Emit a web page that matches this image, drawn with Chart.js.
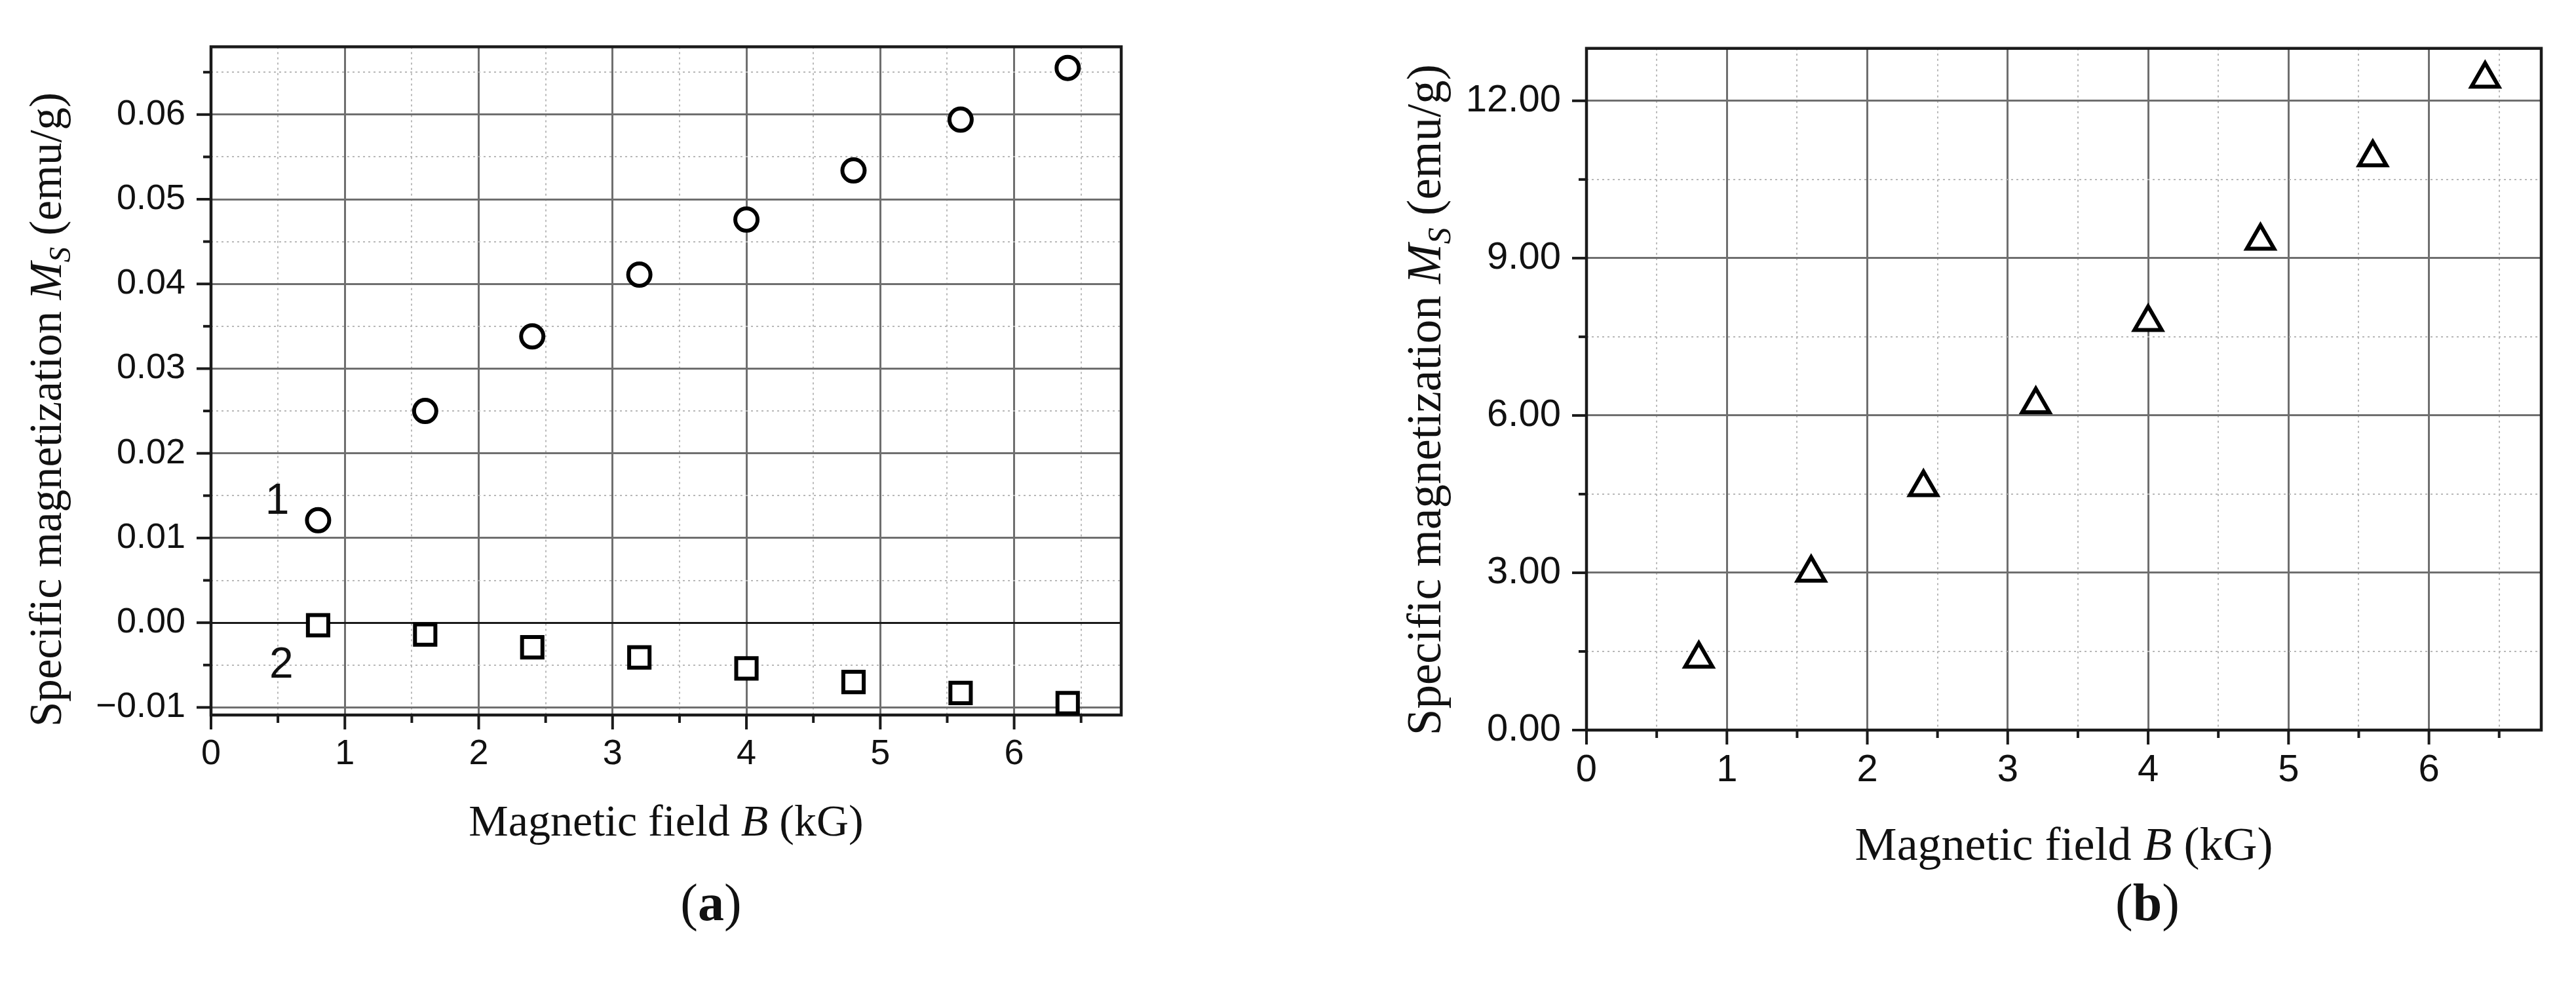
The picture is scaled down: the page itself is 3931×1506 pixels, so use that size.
<!DOCTYPE html>
<html>
<head>
<meta charset="utf-8">
<script src="https://cdn.jsdelivr.net/npm/chart.js@4.4.1/dist/chart.umd.min.js"></script>
<style>
  html, body { margin: 0; padding: 0; background: #fff; overflow: hidden; }
  #caixaA { position: absolute; left: 0; top: 0; }
  #caixaB { position: absolute; left: 1950px; top: 0; }
</style>
</head>
<body>
<canvas id="caixaA" width="1950" height="1506"></canvas>
<canvas id="caixaB" width="1981" height="1506"></canvas>
<script>
// campo magnetico B (kG)
var campo = [0.8, 1.6, 2.4, 3.2, 4.0, 4.8, 5.6, 6.4]
// (a) curva 1 (circulos) e curva 2 (quadrados), emu/g
var curva1 = [0.0121, 0.0250, 0.0338, 0.0411, 0.0476, 0.0534, 0.0594, 0.0655]
var curva2 = [-0.0003, -0.0014, -0.0029, -0.0041, -0.0054, -0.0070, -0.0083, -0.0095]
// (b) triangulos, emu/g
var curvaB = [1.36, 3.00, 4.63, 6.21, 7.78, 9.33, 10.92, 12.42]

// rotulos dos eixos
var rotulosX = ['0', '1', '2', '3', '4', '5', '6']
var rotulosYA = ['\u22120.01', '0.00', '0.01', '0.02', '0.03', '0.04', '0.05', '0.06']
var rotulosYB = ['0.00', '3.00', '6.00', '9.00', '12.00']
// numeros das curvas em (a)
var numerosCurvas = [
    { t: '1', x: 0.495, y: 0.0147 },
    { t: '2', x: 0.525, y: -0.0046 }
]

function pontos(ys) {
    return campo.map((x, i) => ({ x: x, y: ys[i] }))
}

function ehMaior(v, passo) {
    return Math.abs(v / passo - Math.round(v / passo)) < 1e-6
}

function fonteSerif(p, tam) {
    var s = p.sub ? tam * 0.68 : tam
    return (p.i ? 'italic ' : '') + (p.b ? 'bold ' : '') + Math.round(s) + 'px "Liberation Serif"'
}

// escreve texto com partes em italico / subscrito, centrado na origem
function escrevePartes(ctx, partes, tam) {
    var total = 0
    partes.forEach(p => {
        ctx.font = fonteSerif(p, tam)
        p.w = ctx.measureText(p.t).width
        total += p.w
    })
    var cx = -total / 2
    partes.forEach(p => {
        ctx.font = fonteSerif(p, tam)
        ctx.fillText(p.t, cx, p.sub ? tam * 0.2 : 0)
        cx += p.w
    })
}

var tituloY = [{ t: 'Specific magnetization ' }, { t: 'M', i: true }, { t: 'S', i: true, sub: true }, { t: ' (emu/g)' }]
var tituloX = [{ t: 'Magnetic field ' }, { t: 'B', i: true }, { t: ' (kG)' }]

const moldura = {
    id: 'moldura',
    beforeDatasetsDraw(chart) {
        const { ctx, chartArea: a, scales } = chart
        const cfg = chart.options.plugins.moldura
        ctx.save()
        ctx.strokeStyle = '#1a1a1a'
        ctx.lineWidth = 4
        scales.x.ticks.forEach(t => {
            const px = scales.x.getPixelForValue(t.value)
            const len = ehMaior(t.value, 1) ? 22 : 12
            ctx.beginPath(); ctx.moveTo(px, a.bottom); ctx.lineTo(px, a.bottom + len); ctx.stroke()
        })
        scales.y.ticks.forEach(t => {
            const py = scales.y.getPixelForValue(t.value)
            const len = ehMaior(t.value, cfg.passoY) ? 22 : 12
            ctx.beginPath(); ctx.moveTo(a.left, py); ctx.lineTo(a.left - len, py); ctx.stroke()
        })
        ctx.lineWidth = 4.5
        ctx.strokeRect(a.left, a.top, a.right - a.left, a.bottom - a.top)
        ctx.restore()
    },
    afterDraw(chart) {
        const { ctx, chartArea: a, scales } = chart
        const cfg = chart.options.plugins.moldura
        ctx.save()
        ctx.fillStyle = '#111'
        ctx.textBaseline = 'alphabetic'
        ctx.textAlign = 'left'

        ctx.save()
        ctx.translate(cfg.yTitulo.x, cfg.yTitulo.y)
        ctx.rotate(-Math.PI / 2)
        escrevePartes(ctx, tituloY, cfg.yTitulo.tam)
        ctx.restore()

        ctx.save()
        ctx.translate((a.left + a.right) / 2, cfg.xTitulo.y)
        escrevePartes(ctx, tituloX, cfg.xTitulo.tam)
        ctx.restore()

        ctx.save()
        ctx.translate(cfg.legenda.x, cfg.legenda.y)
        escrevePartes(ctx, [{ t: '(' }, { t: cfg.legenda.t, b: true }, { t: ')' }], 80)
        ctx.restore()

        if (cfg.numeros) {
            ctx.font = '66px "Liberation Sans"'
            ctx.textAlign = 'center'
            cfg.numeros.forEach(n => {
                ctx.fillText(n.t, scales.x.getPixelForValue(n.x), scales.y.getPixelForValue(n.y) + 24)
            })
        }
        ctx.restore()
    }
}

function escalas(o) {
    const maiorX = c => c.tick && ehMaior(c.tick.value, 1)
    const maiorY = c => c.tick && ehMaior(c.tick.value, o.passoY)
    return {
        x: {
            type: 'linear', min: 0, max: 6.8,
            afterFit: s => { s.height = o.alturaX },
            ticks: {
                stepSize: 0.5, includeBounds: false, autoSkip: false, maxRotation: 0,
                padding: o.padX, color: '#111',
                font: { family: 'Liberation Sans', size: o.fonte },
                callback: v => ehMaior(v, 1) ? rotulosX[Math.round(v)] : ''
            },
            grid: {
                drawTicks: false,
                color: c => maiorX(c) ? '#6f6f6f' : '#b8b8b8',
                lineWidth: c => maiorX(c) ? 3 : 2
            },
            border: { display: false, dash: c => maiorX(c) ? [] : [3, 5] }
        },
        y: {
            type: 'linear', min: o.minY, max: o.maxY,
            afterFit: s => { s.width = o.larguraY },
            ticks: {
                stepSize: o.passoY / 2, includeBounds: false, autoSkip: false,
                padding: 39, color: '#111',
                font: { family: 'Liberation Sans', size: o.fonte },
                callback: v => ehMaior(v, o.passoY) ? o.rotulos[Math.round((v - o.primeiro) / o.passoY)] : ''
            },
            grid: {
                drawTicks: false,
                color: c => c.tick && Math.abs(c.tick.value) < 1e-9 && o.zeroEscuro ? '#1a1a1a' : (maiorY(c) ? '#6f6f6f' : '#b8b8b8'),
                lineWidth: c => maiorY(c) ? 3 : 2
            },
            border: { display: false, dash: c => maiorY(c) ? [] : [3, 5] }
        }
    }
}

function marcador(estilo, raio) {
    return {
        pointStyle: estilo, pointRadius: raio, pointHoverRadius: raio,
        pointBorderWidth: 6, pointBorderColor: '#000', pointBackgroundColor: '#fff',
        showLine: false
    }
}

function GraficoA() {
    var ctx = document.getElementById('caixaA').getContext('2d')
    new Chart(ctx, {
        type: 'scatter',
        data: {
            datasets: [
                Object.assign({ label: '1', data: pontos(curva1) }, marcador('circle', 17)),
                Object.assign({ label: '2', data: pontos(curva2) }, marcador('rect', 22))
            ]
        },
        options: {
            responsive: false, animation: false, events: [],
            layout: { padding: { top: 68, right: 239, left: 0, bottom: 0 } },
            scales: escalas({
                minY: -0.0109, maxY: 0.068, passoY: 0.01, primeiro: -0.01,
                rotulos: rotulosYA, larguraY: 322, alturaX: 1506 - 1091,
                padX: 28, fonte: 54, zeroEscuro: true
            }),
            plugins: {
                legend: { display: false }, tooltip: { enabled: false },
                moldura: {
                    passoY: 0.01,
                    yTitulo: { x: 93, y: 625, tam: 69 },
                    xTitulo: { y: 1275, tam: 68 },
                    legenda: { t: 'a', x: 1085, y: 1404 },
                    numeros: numerosCurvas
                }
            }
        },
        plugins: [moldura]
    })
}

function GraficoB() {
    var ctx = document.getElementById('caixaB').getContext('2d')
    new Chart(ctx, {
        type: 'scatter',
        data: {
            datasets: [
                Object.assign({ label: 'Ms', data: pontos(curvaB) }, marcador('triangle', 24))
            ]
        },
        options: {
            responsive: false, animation: false, events: [],
            layout: { padding: { top: 42, right: 53, left: 0, bottom: 0 } },
            scales: escalas({
                minY: 0, maxY: 13, passoY: 3, primeiro: 0,
                rotulos: rotulosYB, larguraY: 471, alturaX: 1506 - 1114,
                padX: 27, fonte: 58, zeroEscuro: false
            }),
            plugins: {
                legend: { display: false }, tooltip: { enabled: false },
                moldura: {
                    passoY: 3,
                    yTitulo: { x: 248, y: 610, tam: 73 },
                    xTitulo: { y: 1312, tam: 72 },
                    legenda: { t: 'b', x: 1327, y: 1404 }
                }
            }
        },
        plugins: [moldura]
    })
}

GraficoA()
GraficoB()
</script>
</body>
</html>
